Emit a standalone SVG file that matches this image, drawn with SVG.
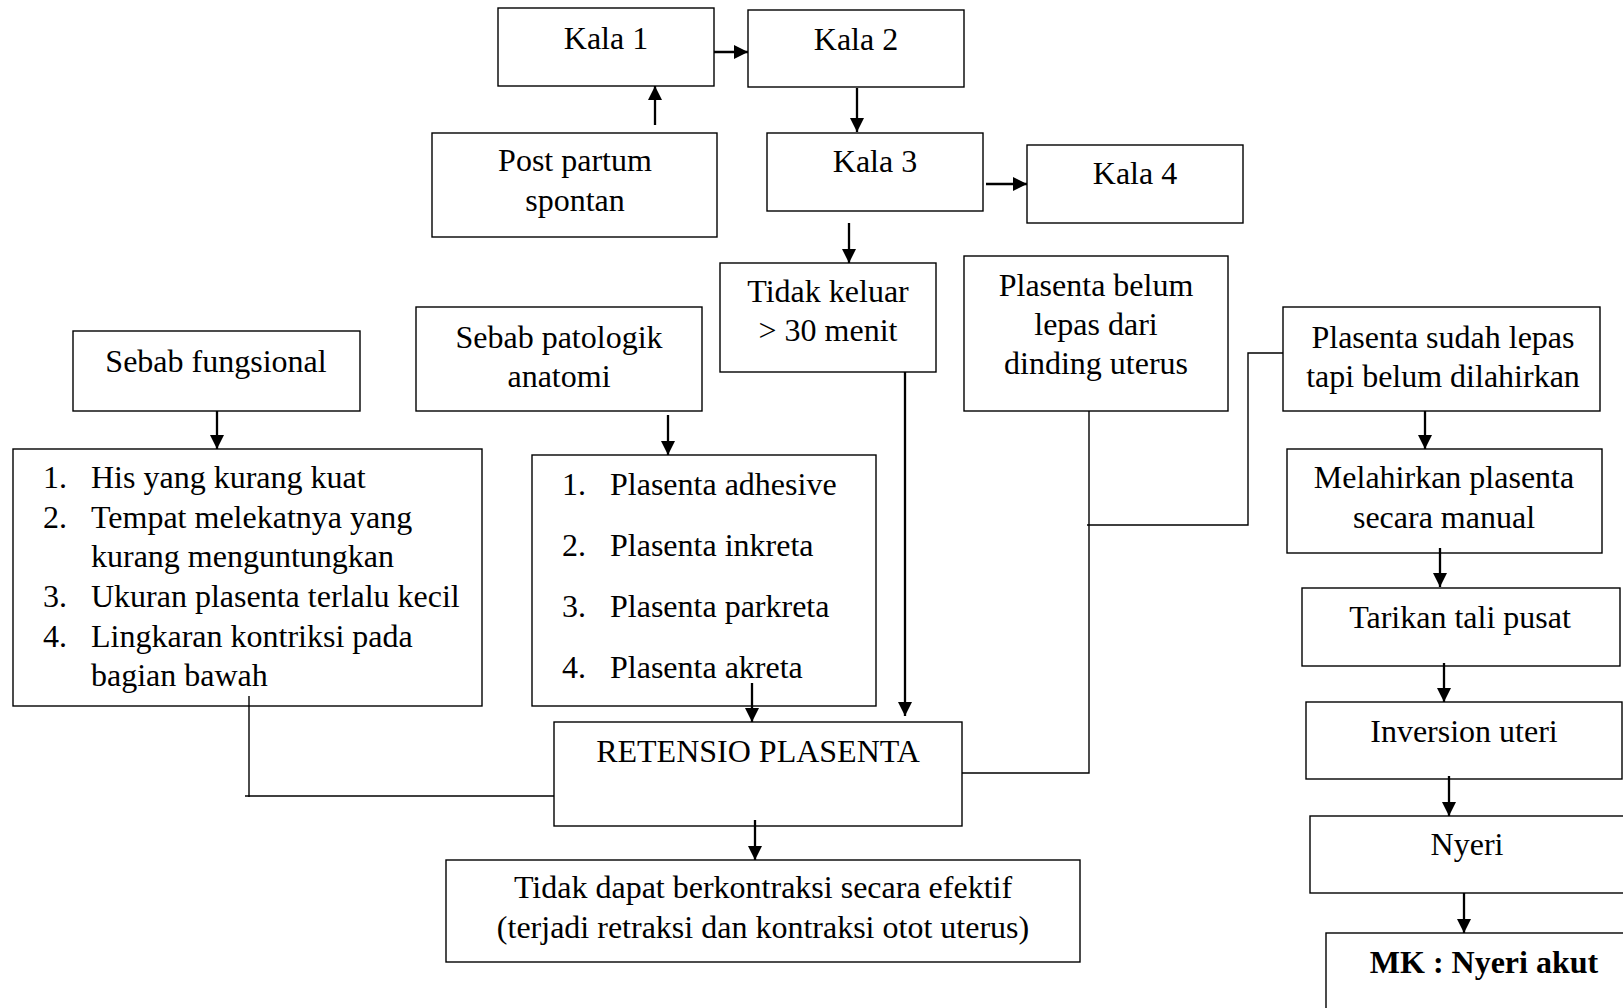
<svg xmlns="http://www.w3.org/2000/svg" width="1623" height="1008" viewBox="0 0 1623 1008">
<style>
.b{fill:#fff;stroke:#000;stroke-width:1.4}
.t{font-family:"Liberation Serif","Times New Roman",serif;font-size:32px;fill:#000}
.c{text-anchor:middle}
.a{fill:none;stroke:#000;stroke-width:2.3;marker-end:url(#ah)}
.l{fill:none;stroke:#000;stroke-width:1.4}
</style>
<defs>
<marker id="ah" markerUnits="userSpaceOnUse" markerWidth="14" markerHeight="14" refX="14" refY="7" orient="auto">
<path d="M0,0 L14,7 L0,14 Z" fill="#000"/>
</marker>
</defs>
<rect width="1623" height="1008" fill="#fff"/>
<g id="kala1"><rect class="b" x="498" y="8" width="216" height="78"/><text class="t c" x="606" y="49">Kala 1</text></g>
<g id="kala2"><rect class="b" x="748" y="10" width="216" height="77"/><text class="t c" x="856" y="50">Kala 2</text></g>
<g id="postpartum"><rect class="b" x="432" y="133" width="285" height="104"/><text class="t c" x="575" y="171">Post partum</text><text class="t c" x="575" y="211">spontan</text></g>
<g id="kala3"><rect class="b" x="767" y="133" width="216" height="78"/><text class="t c" x="875" y="172">Kala 3</text></g>
<g id="kala4"><rect class="b" x="1027" y="145" width="216" height="78"/><text class="t c" x="1135" y="184">Kala 4</text></g>
<g id="tidakkeluar"><rect class="b" x="720" y="263" width="216" height="109"/><text class="t c" x="828" y="302">Tidak keluar</text><text class="t c" x="828" y="341">&gt; 30 menit</text></g>
<g id="sebabfungsional"><rect class="b" x="73" y="331" width="287" height="80"/><text class="t c" x="216" y="372">Sebab fungsional</text></g>
<g id="sebabpatologik"><rect class="b" x="416" y="307" width="286" height="104"/><text class="t c" x="559" y="348">Sebab patologik</text><text class="t c" x="559" y="387">anatomi</text></g>
<g id="plasentabelum"><rect class="b" x="964" y="256" width="264" height="155"/><text class="t c" x="1096" y="296">Plasenta belum</text><text class="t c" x="1096" y="335">lepas dari</text><text class="t c" x="1096" y="374">dinding uterus</text></g>
<g id="plasentasudah"><rect class="b" x="1283" y="307" width="317" height="104"/><text class="t c" x="1443" y="348">Plasenta sudah lepas</text><text class="t c" x="1443" y="387">tapi belum dilahirkan</text></g>
<g id="fungsionallist"><rect class="b" x="13" y="449" width="469" height="257"/>
<text class="t" x="43" y="488">1.</text><text class="t" x="91" y="488">His yang kurang kuat</text>
<text class="t" x="43" y="528">2.</text><text class="t" x="91" y="528">Tempat melekatnya yang</text>
<text class="t" x="91" y="567">kurang menguntungkan</text>
<text class="t" x="43" y="607">3.</text><text class="t" x="91" y="607">Ukuran plasenta terlalu kecil</text>
<text class="t" x="43" y="647">4.</text><text class="t" x="91" y="647">Lingkaran kontriksi pada</text>
<text class="t" x="91" y="686">bagian bawah</text>
</g>
<g id="patologiklist"><rect class="b" x="532" y="455" width="344" height="251"/>
<text class="t" x="562" y="495">1.</text><text class="t" x="610" y="495">Plasenta adhesive</text>
<text class="t" x="562" y="556">2.</text><text class="t" x="610" y="556">Plasenta inkreta</text>
<text class="t" x="562" y="617">3.</text><text class="t" x="610" y="617">Plasenta parkreta</text>
<text class="t" x="562" y="678">4.</text><text class="t" x="610" y="678">Plasenta akreta</text>
</g>
<g id="retensio"><rect class="b" x="554" y="722" width="408" height="104"/><text class="t c" x="758" y="762">RETENSIO PLASENTA</text></g>
<g id="tidakdapat"><rect class="b" x="446" y="860" width="634" height="102"/><text class="t c" x="763" y="898">Tidak dapat berkontraksi secara efektif</text><text class="t c" x="763" y="938">(terjadi retraksi dan kontraksi otot uterus)</text></g>
<g id="melahirkan"><rect class="b" x="1287" y="449" width="315" height="104"/><text class="t c" x="1444" y="488">Melahirkan plasenta</text><text class="t c" x="1444" y="528">secara manual</text></g>
<g id="tarikan"><rect class="b" x="1302" y="588" width="318" height="78"/><text class="t c" x="1460" y="628">Tarikan tali pusat</text></g>
<g id="inversion"><rect class="b" x="1306" y="702" width="316" height="77"/><text class="t c" x="1464" y="742">Inversion uteri</text></g>
<g id="nyeri"><rect class="b" x="1310" y="816" width="320" height="77"/><text class="t c" x="1467" y="855">Nyeri</text></g>
<g id="mk"><rect class="b" x="1326" y="933" width="310" height="90"/><text class="t c" x="1484" y="973" font-weight="bold">MK : Nyeri akut</text></g>
<g id="connectors">
<path class="a" d="M714,52 H748"/>
<path class="a" d="M655,125 V86"/>
<path class="a" d="M857,88 V132"/>
<path class="a" d="M986,184 H1027"/>
<path class="a" d="M849,223 V263"/>
<path class="a" d="M217,411 V449"/>
<path class="a" d="M668,415 V455"/>
<path class="a" d="M752,683 V722"/>
<path class="a" d="M905,372 V716"/>
<path class="a" d="M755,820 V860"/>
<path class="l" d="M249,696 V797"/>
<path class="l" d="M245,796 H554"/>
<path class="l" d="M962,773 H1089 V411"/>
<path class="l" d="M1283,353 H1248 V525 H1087"/>
<path class="a" d="M1425,411 V449"/>
<path class="a" d="M1440,548 V587"/>
<path class="a" d="M1444,663 V702"/>
<path class="a" d="M1449,776 V816"/>
<path class="a" d="M1464,893 V933"/>
</g>
</svg>
